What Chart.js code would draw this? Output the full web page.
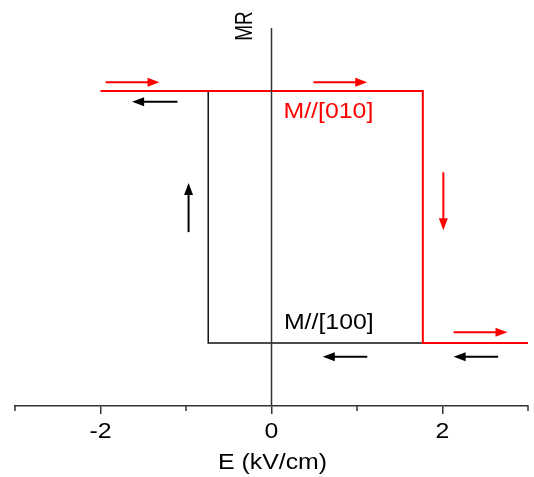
<!DOCTYPE html>
<html><head><meta charset="utf-8">
<script src="https://cdn.jsdelivr.net/npm/chart.js@4/dist/chart.umd.min.js"></script>
<style>html,body{margin:0;padding:0;background:#fff}#wrap{width:534px;height:477px}</style>
</head><body><div id="wrap"><canvas id="c" width="534" height="477"></canvas></div>
<script>
// Data
const xTicks = [-2, 0, 2];
const xTickLabels = ['-2', '0', '2'];
const xMinorTicks = [-3, -1, 1, 3];
const redE = [-2, 1.77, 1.77, 3];
const redMR = [5, 5, 1, 1];
const blackE = [3, -0.74, -0.74, -1.73];
const blackMR = [1, 1, 5, 5];
// arrows: start/end in data coordinates
const arrowE0 = [-1.94, -1.10, 0.49, 2.01, -0.97, 2.13, 2.65, 1.12];
const arrowMR0 = [5.14, 4.83, 5.14, 3.71, 2.76, 1.17, 0.78, 0.78];
const arrowE1 = [-1.31, -1.63, 1.12, 2.01, -0.97, 2.76, 2.13, 0.60];
const arrowMR1 = [5.14, 4.83, 5.14, 2.79, 3.54, 1.17, 0.78, 0.78];
const arrowColors = ['#ff0000', '#000000', '#ff0000', '#ff0000', '#000000', '#ff0000', '#000000', '#000000'];
const labelTexts = ['M//[010]', 'M//[100]'];
const labelE = [0.14, 0.145];
const labelMR = [4.57, 1.22];
const labelColors = ['#ff0000', '#000000'];
const xTitle = 'E (kV/cm)';
const yTitle = 'MR';

const toPts = (xs, ys) => xs.map((x, i) => ({x, y: ys[i]}));
const FONT = '"Liberation Sans", Arial, sans-serif';
const SX = 1.13; // horizontal text stretch of the reference

function stretchedText(ctx, text, x, y, align) {
  ctx.save();
  ctx.translate(x, y);
  ctx.scale(SX, 1);
  ctx.textAlign = align;
  ctx.fillText(text, 0, 0);
  ctx.restore();
}

const overlay = {
  id: 'overlay',
  afterDraw(chart) {
    const ctx = chart.ctx, xs = chart.scales.x, ys = chart.scales.y, ca = chart.chartArea;
    ctx.save();
    // vertical axis at E=0
    const x0 = xs.getPixelForValue(0);
    ctx.strokeStyle = '#333'; ctx.lineWidth = 1.5;
    ctx.beginPath(); ctx.moveTo(x0, ca.top); ctx.lineTo(x0, ca.bottom); ctx.stroke();
    // minor ticks
    xMinorTicks.forEach(v => {
      const px = xs.getPixelForValue(v);
      ctx.beginPath(); ctx.moveTo(px, ca.bottom); ctx.lineTo(px, ca.bottom + 5); ctx.stroke();
    });
    // tick labels and x title
    ctx.fillStyle = '#000';
    ctx.textBaseline = 'alphabetic';
    ctx.font = '22px ' + FONT;
    xTicks.forEach((v, i) => stretchedText(ctx, xTickLabels[i], xs.getPixelForValue(v), ca.bottom + 32, 'center'));
    stretchedText(ctx, xTitle, (ca.left + ca.right) / 2 + 1, ca.bottom + 63, 'center');
    // MR title
    ctx.save();
    ctx.font = '19px ' + FONT;
    ctx.translate(x0 - 26, ca.top - 2);
    ctx.scale(1.3, 1);
    ctx.rotate(-Math.PI / 2);
    ctx.textAlign = 'center'; ctx.textBaseline = 'middle';
    ctx.fillText(yTitle, 0, 0);
    ctx.restore();
    // arrows
    arrowE0.forEach((e, i) => {
      const ax = xs.getPixelForValue(e), ay = ys.getPixelForValue(arrowMR0[i]);
      const bx = xs.getPixelForValue(arrowE1[i]), by = ys.getPixelForValue(arrowMR1[i]);
      const ang = Math.atan2(by - ay, bx - ax);
      const hl = 12, hw = 4.5;
      ctx.strokeStyle = arrowColors[i]; ctx.fillStyle = arrowColors[i]; ctx.lineWidth = 2;
      ctx.beginPath(); ctx.moveTo(ax, ay);
      ctx.lineTo(bx - Math.cos(ang) * hl * 0.8, by - Math.sin(ang) * hl * 0.8); ctx.stroke();
      ctx.beginPath();
      ctx.moveTo(bx, by);
      ctx.lineTo(bx - Math.cos(ang) * hl - Math.sin(ang) * hw, by - Math.sin(ang) * hl + Math.cos(ang) * hw);
      ctx.lineTo(bx - Math.cos(ang) * hl + Math.sin(ang) * hw, by - Math.sin(ang) * hl - Math.cos(ang) * hw);
      ctx.closePath(); ctx.fill();
    });
    // labels
    ctx.font = '22px ' + FONT;
    ctx.textBaseline = 'alphabetic';
    labelTexts.forEach((t, i) => {
      ctx.fillStyle = labelColors[i];
      stretchedText(ctx, t, xs.getPixelForValue(labelE[i]), ys.getPixelForValue(labelMR[i]), 'left');
    });
    ctx.restore();
  }
};

new Chart(document.getElementById('c'), {
  type: 'scatter',
  data: {
    datasets: [
      {data: toPts(blackE, blackMR), showLine: true, borderColor: '#111', borderWidth: 1.5, pointRadius: 0, tension: 0, order: 2},
      {data: toPts(redE, redMR), showLine: true, borderColor: '#ff0000', borderWidth: 2, pointRadius: 0, tension: 0, order: 1}
    ]
  },
  options: {
    responsive: false, animation: false,
    layout: {padding: {left: 15, right: 6, top: 28, bottom: 63}},
    plugins: {legend: {display: false}, tooltip: {enabled: false}},
    scales: {
      x: {
        type: 'linear', min: -3, max: 3,
        afterBuildTicks: axis => { axis.ticks = xTicks.map(v => ({value: v})); },
        grid: {display: true, drawOnChartArea: false, drawTicks: true, tickLength: 8, color: '#333', lineWidth: 1.5},
        border: {display: true, color: '#333', width: 1.5},
        ticks: {display: false},
        title: {display: false}
      },
      y: {display: false, type: 'linear', min: 0, max: 6}
    }
  },
  plugins: [overlay]
});
</script></body></html>
